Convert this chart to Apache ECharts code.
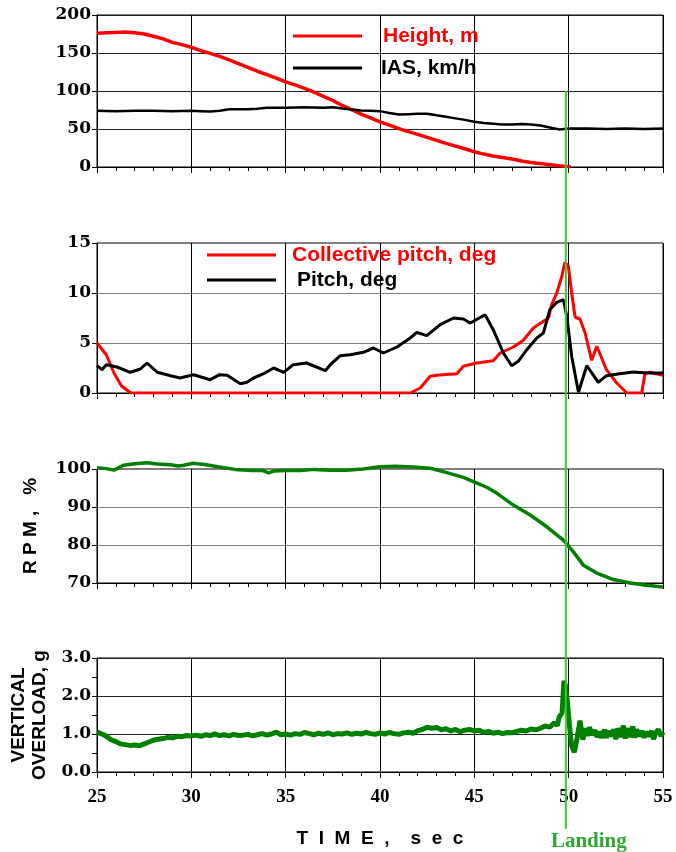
<!DOCTYPE html>
<html>
<head>
<meta charset="utf-8">
<script src="https://cdn.jsdelivr.net/npm/echarts@6/dist/echarts.min.js"></script>
<style>
html,body{margin:0;padding:0;background:#fff;}
#chart{width:676px;height:852px;}
</style>
</head>
<body>
<div id="chart"></div>
<script>
// ---- data (time in sec, value) ----
const heightData = [[25,176],[25.5,176.5],[26,177],[26.5,177.5],[27,176.5],[27.5,175],[28,172],[28.5,168.5],[29,164],[29.5,161],[30,157.5],[30.5,153],[31,149.5],[31.5,145.5],[32,141],[32.5,136],[33,131],[33.5,126],[34,121.5],[34.5,117],[35,112],[35.5,108],[36,103.5],[36.5,98.5],[37,93],[37.5,87.5],[38,81],[38.5,75.5],[39,69.5],[39.5,64.5],[40,59.5],[40.5,55],[41,50.5],[41.5,46.5],[42,43],[42.5,39],[43,35],[43.5,31],[44,27.5],[44.5,24],[45,20],[45.5,17],[46,14.5],[46.5,12.5],[47,10.5],[47.5,8],[48,6],[48.5,4.5],[49,3],[49.5,1.5],[50,0.5],[50.1,0.3]];
const iasData = [[25,74],[26,73.5],[27,74],[28,74],[29,73.5],[30,74],[30.5,73.5],[31,73],[31.5,74],[32,76],[33,76],[33.5,76.5],[34,78],[35,78],[36,78.5],[37,78],[37.5,78.5],[38,77],[38.5,75.5],[39,74.5],[39.5,74],[40,73.5],[40.5,71],[41,69],[41.5,69.5],[42,70],[42.5,70],[43,68],[43.5,66],[44,64],[44.5,62],[45,59.5],[45.5,58],[46,57],[46.5,56],[47,56],[47.5,56.5],[48,56],[48.5,54.5],[49,52],[49.5,49.5],[50,50.5],[51,50.5],[52,50],[53,50.5],[54,50],[55,50.5]];
const collectiveData = [[25,5.0],[25.5,3.8],[25.9,2.0],[26.3,0.7],[26.8,0],[41.6,0],[42.13,0.5],[42.66,1.67],[43.0,1.77],[44.07,1.93],[44.42,2.67],[45.13,3.0],[46.0,3.23],[46.37,4.0],[47.07,4.6],[47.6,5.27],[48.13,6.5],[48.66,7.17],[48.93,7.5],[49.1,8.83],[49.37,10.0],[49.64,11.67],[49.8,13.07],[49.98,12.73],[50.16,10.0],[50.34,7.6],[50.6,7.4],[50.87,6.0],[51.22,3.27],[51.49,4.67],[51.75,3.5],[52.0,2.33],[52.55,1.0],[53.08,0],[53.87,0],[54.05,2.0],[54.3,2.07],[55,1.77]];
const pitchData = [[25,2.73],[25.26,2.33],[25.5,2.83],[26.06,2.6],[26.76,2.07],[27.3,2.4],[27.65,3.0],[28.2,2.07],[28.9,1.73],[29.4,1.5],[30.12,1.83],[31.0,1.33],[31.5,1.83],[31.9,1.77],[32.6,0.93],[32.95,1.07],[33.3,1.5],[33.83,1.93],[34.36,2.5],[34.9,2.07],[35.4,2.83],[36.1,3.0],[37.1,2.23],[37.4,2.9],[37.9,3.73],[38.42,3.83],[39.12,4.07],[39.65,4.5],[40.18,4.0],[40.9,4.6],[41.6,5.5],[41.95,6.07],[42.48,5.73],[43.19,6.83],[43.9,7.5],[44.42,7.4],[44.78,7.0],[45.57,7.83],[46.0,6.33],[46.54,4.0],[46.98,2.73],[47.33,3.17],[47.78,4.33],[48.31,5.5],[48.66,6.0],[49.0,8.33],[49.37,9.07],[49.72,9.33],[49.9,7.67],[50.16,3.67],[50.52,0.07],[50.96,2.73],[51.57,1.07],[52.0,1.73],[52.7,1.93],[53.43,2.1],[54.13,2.0],[55,2.0]];
const rpmData = [[25,100.35],[25.5,100.1],[25.9,99.7],[26.4,101.0],[27,101.4],[27.65,101.65],[28.2,101.3],[28.9,101.1],[29.3,100.8],[29.6,101.0],[30.1,101.5],[30.7,101.2],[31.4,100.6],[32.3,99.9],[33.2,99.6],[33.8,99.6],[34.1,99.0],[34.4,99.5],[35.0,99.6],[35.8,99.6],[36.5,99.9],[37.36,99.7],[38.2,99.7],[39.1,100.0],[40.0,100.6],[40.8,100.7],[41.77,100.5],[42.66,100.2],[43.5,99.1],[44.42,97.8],[44.95,96.7],[45.66,95.2],[46.2,93.6],[47.07,90.5],[47.96,87.9],[48.84,84.8],[49.72,81.3],[50.25,78.2],[50.78,74.7],[51.49,72.6],[52.37,70.9],[53.25,70.0],[54.13,69.4],[55,68.95]];
const overloadData = [[25.0,1.05],[25.1,1.09],[25.25,1.00],[25.4,0.97],[25.5,0.93],[25.75,0.85],[26.0,0.80],[26.25,0.74],[26.5,0.72],[26.75,0.70],[27.0,0.71],[27.25,0.69],[27.5,0.74],[27.75,0.79],[28.0,0.84],[28.25,0.86],[28.5,0.88],[28.75,0.91],[29.0,0.90],[29.25,0.94],[29.5,0.93],[29.75,0.96],[30.0,0.95],[30.25,0.97],[30.5,0.94],[30.75,0.98],[31.0,0.96],[31.25,1.00],[31.5,0.96],[31.75,0.98],[32.0,0.95],[32.25,0.99],[32.5,0.96],[32.75,0.97],[33.0,0.99],[33.25,0.95],[33.5,0.98],[33.75,1.01],[34.0,0.97],[34.25,1.00],[34.5,1.05],[34.75,0.98],[35.0,1.00],[35.25,0.97],[35.5,1.01],[35.75,0.99],[36.0,1.04],[36.25,1.01],[36.5,0.98],[36.75,1.02],[37.0,0.99],[37.25,1.03],[37.5,0.98],[37.75,1.01],[38.0,1.00],[38.25,1.03],[38.5,0.99],[38.75,1.02],[39.0,1.00],[39.25,1.04],[39.5,1.01],[39.75,0.99],[40.0,1.03],[40.25,1.00],[40.5,1.04],[40.75,1.01],[41.0,0.99],[41.25,1.03],[41.5,1.05],[41.75,1.02],[42.0,1.09],[42.25,1.12],[42.5,1.18],[42.75,1.15],[43.0,1.17],[43.25,1.11],[43.5,1.14],[43.75,1.08],[44.0,1.12],[44.25,1.06],[44.5,1.10],[44.75,1.12],[45.0,1.08],[45.25,1.10],[45.5,1.04],[45.75,1.07],[46.0,1.02],[46.25,1.05],[46.5,1.01],[46.75,1.04],[47.0,1.03],[47.25,1.07],[47.5,1.10],[47.75,1.08],[48.0,1.13],[48.25,1.11],[48.5,1.15],[48.75,1.21],[49.0,1.18],[49.25,1.30],[49.4,1.22],[49.5,1.45],[49.65,1.55],[49.75,2.40],[49.85,2.25],[49.95,2.30],[50.05,1.20],[50.15,0.70],[50.3,0.52],[50.45,0.90],[50.6,1.35],[50.75,0.85],[50.9,1.15],[51.0,0.95],[51.1,1.18],[51.25,0.98],[51.4,1.10],[51.5,0.92],[51.6,1.06],[51.75,0.90],[51.9,1.12],[52.0,0.90],[52.1,1.08],[52.25,0.95],[52.4,1.12],[52.5,0.86],[52.6,1.15],[52.75,0.92],[52.9,1.22],[53.0,0.88],[53.1,1.15],[53.25,0.92],[53.4,1.20],[53.5,0.90],[53.6,1.12],[53.75,0.95],[53.9,1.08],[54.0,0.90],[54.1,1.05],[54.25,0.95],[54.4,1.08],[54.5,0.86],[54.6,1.02],[54.75,1.12],[54.9,0.95],[55.0,1.05]];

const timeRange = [25, 55];
const timeStep = 5;
const yRanges = [[0,200,50],[0,15,5],[70,100,10],[0,3,1]];
const landingTime = 49.85;
const landingTopValue = 100;

// ---- layout ----
const gridTops = [15, 243, 469, 658];
const gridHeights = [152, 150, 114, 114];
const hSplitColors = ['#222', '#808080', '#808080', '#222'];

const chart = echarts.init(document.getElementById('chart'));

const grids = gridTops.map((t, i) => ({
  left: 97, right: 13, top: t, height: gridHeights[i],
  show: true, borderColor: '#000', borderWidth: 1, containLabel: false
}));

const xAxes = gridTops.map((t, i) => ({
  type: 'value', gridIndex: i, min: timeRange[0], max: timeRange[1], interval: timeStep,
  axisLine: { show: true, onZero: false, lineStyle: { color: '#000', width: 1 } },
  axisTick: { show: true, inside: false, length: 6, lineStyle: { color: '#000', width: 1 } },
  minorTick: { show: true, splitNumber: 5, length: 4, lineStyle: { color: '#000', width: 1 } },
  splitLine: { show: true, lineStyle: { color: '#000', width: 1 } },
  axisLabel: i === 3 ? {
    show: true, margin: 16, color: '#000', fontFamily: 'Liberation Serif', fontWeight: 'bold', fontSize: 19
  } : { show: false },
  name: i === 3 ? 'T  I  M  E  ,    s  e  c' : '',
  nameLocation: 'middle', nameGap: 57,
  nameTextStyle: { color: '#000', fontFamily: 'Liberation Sans', fontWeight: 'bold', fontSize: 19 }
}));

const yAxes = yRanges.map((r, i) => ({
  type: 'value', gridIndex: i, min: r[0], max: r[1], interval: r[2],
  axisLine: { show: true, lineStyle: { color: '#000', width: 1 } },
  axisTick: { show: true, inside: false, length: 5, lineStyle: { color: '#000' } },
  minorTick: { show: i === 3, splitNumber: 2, length: 5, lineStyle: { color: '#000' } },
  splitLine: { show: true, lineStyle: { color: hSplitColors[i], width: 1 } },
  axisLabel: {
    margin: 6, color: '#000', fontFamily: 'DejaVu Serif', fontWeight: 'bold', fontSize: 17,
    formatter: i === 3 ? (v) => v.toFixed(1) : (v) => String(v)
  },
  name: i === 2 ? 'R P M ,   %' : (i === 3 ? 'VERTICAL\nOVERLOAD, g' : ''),
  nameLocation: 'middle', nameRotate: 90,
  nameGap: i === 2 ? 56 : 47,
  nameTextStyle: { color: '#000', fontFamily: 'Liberation Sans', fontWeight: 'bold', fontSize: 19, lineHeight: 21 }
}));

const lineSeries = (name, data, gi, color, width, clip) => ({
  name, type: 'line', data, xAxisIndex: gi, yAxisIndex: gi,
  showSymbol: false, symbol: 'none', clip: clip,
  lineStyle: { color, width }, itemStyle: { color }
});

const legendText = { fontFamily: 'Liberation Sans', fontWeight: 'bold', fontSize: 21, lineHeight: 20 };

const option = {
  animation: false,
  backgroundColor: '#fff',
  grid: grids,
  xAxis: xAxes,
  yAxis: yAxes,
  legend: [
    {
      left: 293, top: 24, orient: 'vertical', selectedMode: false, padding: 0,
      icon: 'rect', itemWidth: 69, itemHeight: 3, itemGap: 8,
      data: [
        { name: 'Height, m', textStyle: { color: '#ff0000', padding: [4, 0, 0, 16] } },
        { name: 'IAS, km/h', textStyle: { color: '#000', padding: [4, 0, 0, 14] } }
      ],
      textStyle: legendText
    },
    {
      left: 207, top: 243, orient: 'vertical', selectedMode: false, padding: 0,
      icon: 'rect', itemWidth: 69, itemHeight: 3, itemGap: 1,
      data: [
        { name: 'Collective pitch, deg', textStyle: { color: '#ff0000', padding: [4, 0, 0, 11] } },
        { name: 'Pitch, deg', textStyle: { color: '#000', padding: [4, 0, 0, 16] } }
      ],
      textStyle: legendText
    }
  ],
  series: [
    lineSeries('Height, m', heightData, 0, '#ff0000', 3.5, true),
    lineSeries('IAS, km/h', iasData, 0, '#000000', 2.5, true),
    lineSeries('Collective pitch, deg', collectiveData, 1, '#ff0000', 3, true),
    lineSeries('Pitch, deg', pitchData, 1, '#000000', 3, true),
    lineSeries('RPM', rpmData, 2, '#008000', 3.5, false),
    lineSeries('Overload', overloadData, 3, '#008000', 5, false)
  ]
};
chart.setOption(option);

const landTop = chart.convertToPixel({ gridIndex: 0 }, [landingTime, landingTopValue]);
const landBot = chart.convertToPixel({ gridIndex: 3 }, [landingTime, 0]);
chart.setOption({
  graphic: [
    {
      type: 'line', z: 100,
      shape: { x1: landTop[0], y1: landTop[1], x2: landTop[0], y2: landBot[1] + 57 },
      style: { stroke: '#33cc33', lineWidth: 2 }
    },
    {
      type: 'text', z: 100, x: landTop[0] + 23, y: landBot[1] + 70,
      style: {
        text: 'Landing', fill: '#2eaa2e', font: 'bold 21px "Liberation Serif"',
        align: 'center', verticalAlign: 'middle'
      }
    }
  ]
});
</script>
</body>
</html>
